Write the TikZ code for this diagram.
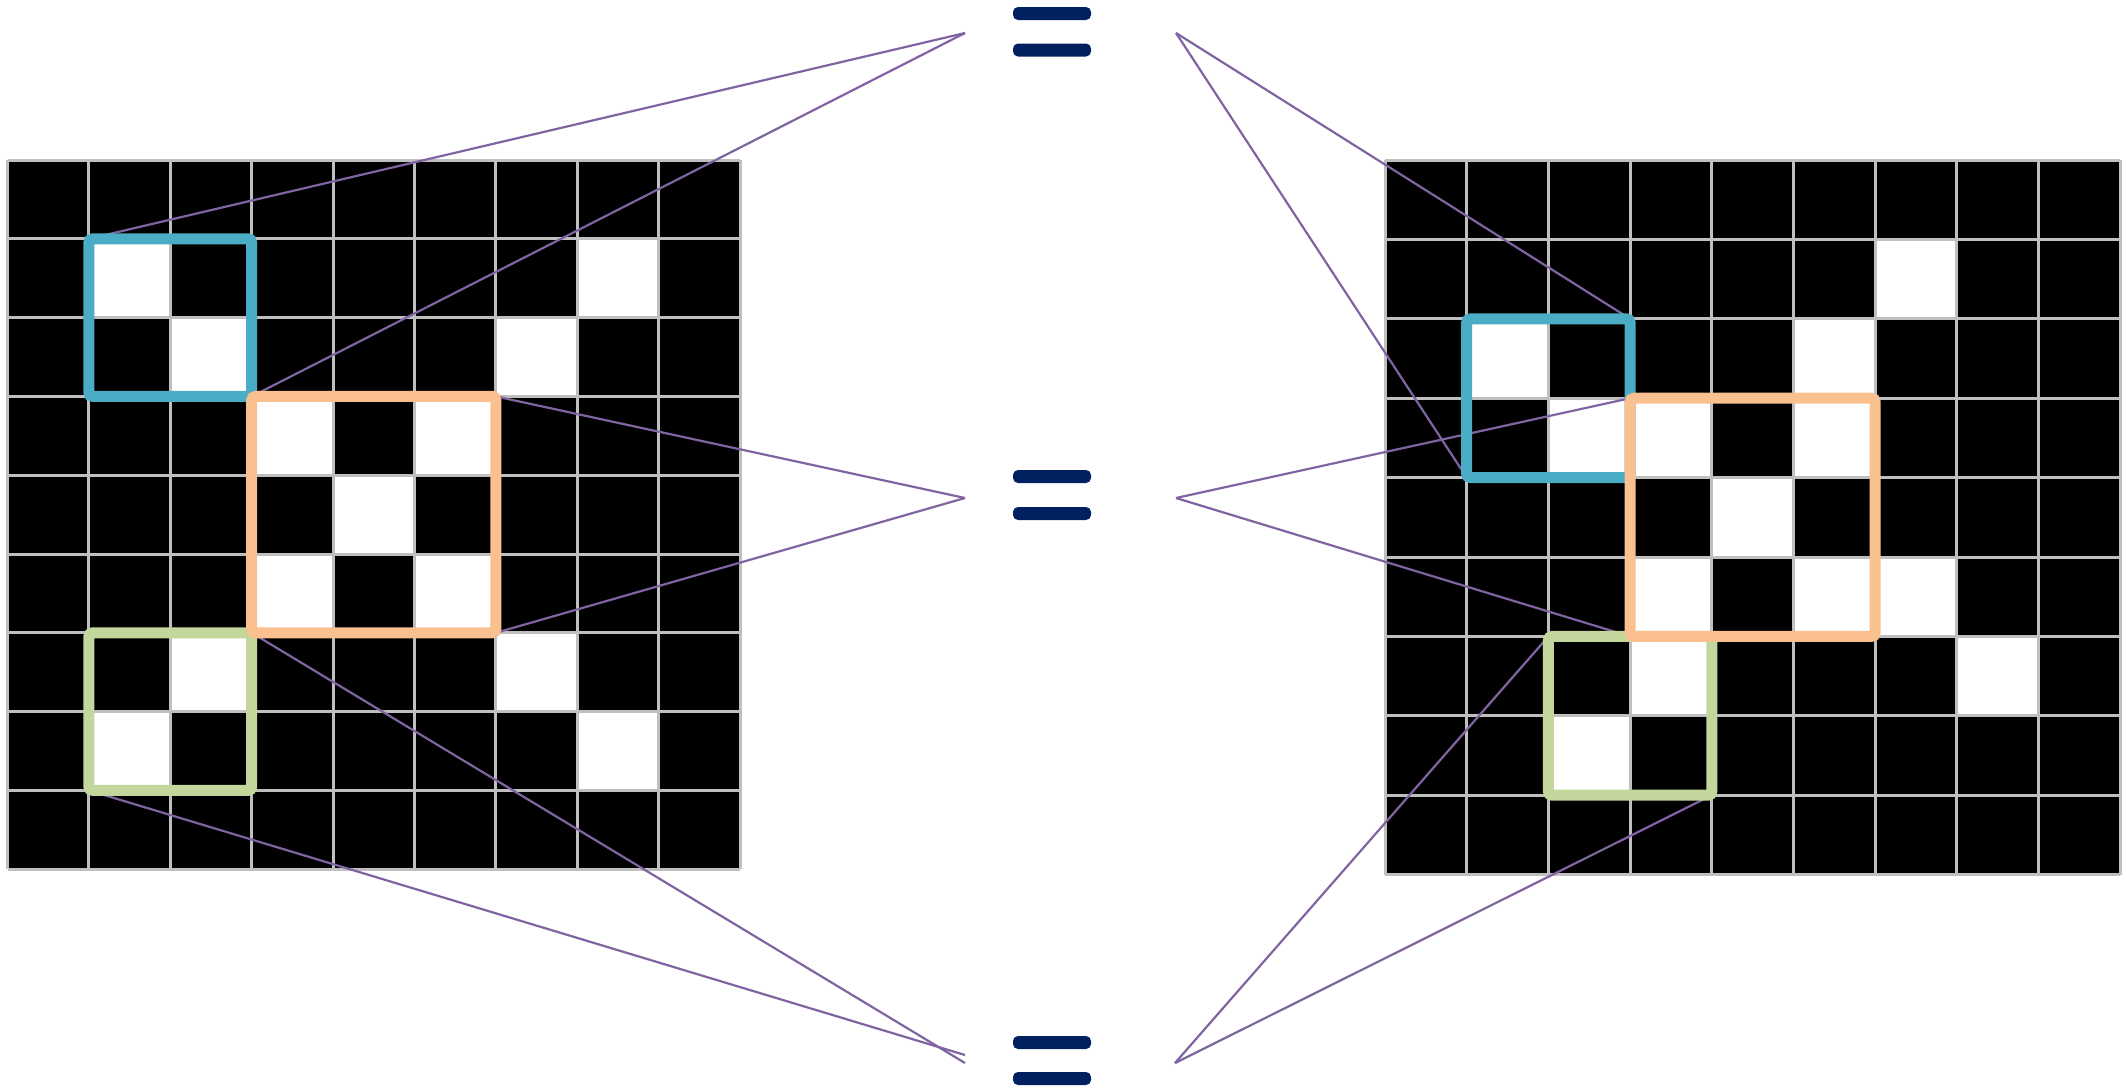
\documentclass[tikz,border=0pt]{standalone}
\definecolor{gridgray}{HTML}{BFBFBF}
\definecolor{boxblue}{HTML}{4BACC6}
\definecolor{boxorange}{HTML}{FAC090}
\definecolor{boxgreen}{HTML}{C3D69B}
\definecolor{linkpurple}{HTML}{8064A2}
\definecolor{eqnavy}{HTML}{002060}
\tikzset{
  gridline/.style={draw=gridgray, line width=3pt},
  link/.style={draw=linkpurple, line width=2.2pt},
  hibox/.style={line width=11pt, rounded corners=4pt},
  eqbar/.style={rectangle, fill=eqnavy, rounded corners=5pt, minimum width=78pt, minimum height=13pt, inner sep=0pt, draw=none},
}
\begin{document}
\begin{tikzpicture}[x=1pt,y=-1pt]
\useasboundingbox (0,0) rectangle (2128,1088);
% ---------- left grid ----------
\def\lx{7.5}\def\ly{160}\def\lw{81.4}\def\lh{78.8}
\fill[black] (\lx,\ly) rectangle ++({9*\lw},{9*\lh});
\foreach \c/\r in {1/1,7/1,2/2,6/2,3/3,5/3,4/4,3/5,5/5,2/6,6/6,1/7,7/7}
  \fill[white] ({\lx+\c*\lw},{\ly+\r*\lh}) rectangle ++(\lw,\lh);
\foreach \i in {0,...,9}{
  \draw[gridline] ({\lx+\i*\lw},\ly) -- ({\lx+\i*\lw},{\ly+9*\lh});
  \draw[gridline] (\lx,{\ly+\i*\lh}) -- ({\lx+9*\lw},{\ly+\i*\lh});
}
\foreach \c in {0,...,9}
  \foreach \r in {0,...,9}
    \coordinate (L-\c-\r) at ({\lx+\c*\lw},{\ly+\r*\lh});
% ---------- right grid ----------
\def\rx{1385}\def\ry{160}\def\rw{81.7}\def\rh{79.4}
\fill[black] (\rx,\ry) rectangle ++({9*\rw},{9*\rh});
\foreach \c/\r in {6/1,1/2,5/2,2/3,3/3,5/3,4/4,3/5,5/5,6/5,3/6,7/6,2/7}
  \fill[white] ({\rx+\c*\rw},{\ry+\r*\rh}) rectangle ++(\rw,\rh);
\foreach \i in {0,...,9}{
  \draw[gridline] ({\rx+\i*\rw},\ry) -- ({\rx+\i*\rw},{\ry+9*\rh});
  \draw[gridline] (\rx,{\ry+\i*\rh}) -- ({\rx+9*\rw},{\ry+\i*\rh});
}
\foreach \c in {0,...,9}
  \foreach \r in {0,...,9}
    \coordinate (R-\c-\r) at ({\rx+\c*\rw},{\ry+\r*\rh});
% ---------- convergence points ----------
\coordinate (tl) at (965,33);
\coordinate (tr) at (1176,33);
\coordinate (ml) at (965,498);
\coordinate (mr) at (1176,498);
\coordinate (bl1) at (965,1055);
\coordinate (bl2) at (965,1063);
\coordinate (br) at (1175,1063);
% ---------- links ----------
\draw[link] (L-1-1) -- (tl);
\draw[link] (L-3-3) -- (tl);
\draw[link] (R-3-2) -- (tr);
\draw[link] (R-1-4) -- (tr);
\draw[link] (L-6-3) -- (ml);
\draw[link] (L-6-6) -- (ml);
\draw[link] (R-3-3) -- (mr);
\draw[link] (R-3-6) -- (mr);
\draw[link] (L-1-8) -- (bl1);
\draw[link] (L-3-6) -- (bl2);
\draw[link] (R-2-6) -- (br);
\draw[link] (R-4-8) -- (br);
% ---------- highlight boxes ----------
\draw[hibox, boxblue] (L-1-1) rectangle (L-3-3);
\draw[hibox, boxgreen] (L-1-6) rectangle (L-3-8);
\draw[hibox, boxorange] (L-3-3) rectangle (L-6-6);
\draw[hibox, boxblue] (R-1-2) rectangle (R-3-4);
\draw[hibox, boxgreen] (R-2-6) rectangle (R-4-8);
\draw[hibox, boxorange] (R-3-3) rectangle (R-6-6);
% ---------- equals signs ----------
\node[eqbar] (eqta) at (1052,13.5) {};
\node[eqbar] (eqtb) at (1052,50) {};
\node[eqbar] (eqma) at (1052,476.5) {};
\node[eqbar] (eqmb) at (1052,513.5) {};
\node[eqbar] (eqba) at (1052,1042.5) {};
\node[eqbar] (eqbb) at (1052,1078.5) {};
\end{tikzpicture}
\end{document}
